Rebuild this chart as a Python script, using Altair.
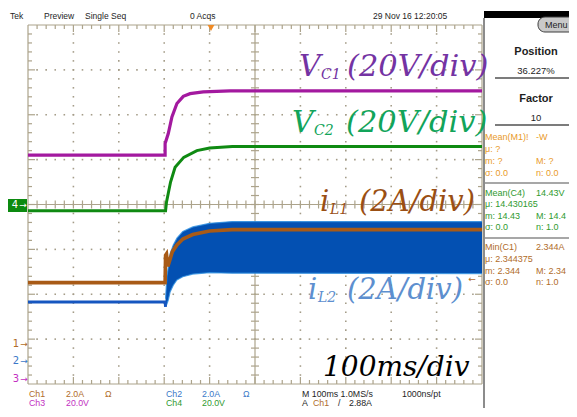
import altair as alt
import pandas as pd

# ---------------- trace data read from the scope screen ----------------
# time in ms (100 ms/div, 10 div wide); values in screen divisions above the bottom graticule (8 div high)
vc1_t = [0, 302, 302, 309, 317, 328, 342, 357, 386, 445, 600, 1000]
vc1_v = [5.10, 5.10, 5.36, 5.58, 5.95, 6.25, 6.41, 6.47, 6.51, 6.53, 6.53, 6.53]

vc2_t = [0, 303, 305, 309, 314, 324, 343, 372, 400, 450, 1000]
vc2_v = [3.86, 3.86, 4.05, 4.25, 4.50, 4.83, 5.05, 5.20, 5.26, 5.29, 5.29]

il1_t = [0, 302, 303, 305, 308, 312, 318, 328, 341, 363, 400, 450, 1000]
il1_v = [2.26, 2.26, 2.87, 2.90, 2.62, 2.75, 2.95, 3.10, 3.23, 3.33, 3.41, 3.44, 3.44]

il2_t = [0, 302, 303]
il2_v = [1.83, 1.83, 1.72]
il2_band_t = [303, 306, 309, 313, 320, 328, 341, 363, 400, 450, 1000]
il2_band_hi = [1.90, 2.40, 2.60, 2.90, 3.10, 3.25, 3.40, 3.50, 3.58, 3.62, 3.62]
il2_band_lo = [1.72, 1.78, 1.87, 2.05, 2.20, 2.32, 2.39, 2.45, 2.48, 2.47, 2.46]

# ---------------- layout helpers (page pixels -> scope grid units) ----------------
X0, Y0, PW, PH = 28.0, 25.0, 454.0, 359.0


def sx(px):
    return (px - X0) / PW * 1000.0


def sy(py):
    return (Y0 + PH - py) / PH * 8.0


xs = alt.Scale(domain=[0, 1000], nice=False, zero=False)
ys = alt.Scale(domain=[0, 8], nice=False, zero=False)
GRID = "#aca38b"
DOT = "#a49c88"


def X(f="x"):
    return alt.X(f"{f}:Q", scale=xs, axis=None)


def Y(f="y"):
    return alt.Y(f"{f}:Q", scale=ys, axis=None)


# ---------------- graticule ----------------
mx = 1000.0 / PW  # ms per px
my = 8.0 / PH     # div per px
rules = []
rules += [dict(x=0, x2=1000, y=0, y2=0), dict(x=0, x2=1000, y=8, y2=8),
          dict(x=0, x2=0, y=0, y2=8), dict(x=1000, x2=1000, y=0, y2=8)]
rules += [dict(x=500, x2=500, y=0, y2=8), dict(x=0, x2=1000, y=4, y2=4)]
for k in range(1, 50):
    xv = 20 * k
    L = 7 if k % 5 == 0 else 4
    rules.append(dict(x=xv, x2=xv, y=8, y2=8 - L * my))
    rules.append(dict(x=xv, x2=xv, y=0, y2=L * my))
    rules.append(dict(x=xv, x2=xv, y=4 - 4 * my, y2=4 + 4 * my))
for j in range(1, 40):
    yv = 0.2 * j
    L = 7 if j % 5 == 0 else 4
    rules.append(dict(x=0, x2=L * mx, y=yv, y2=yv))
    rules.append(dict(x=1000, x2=1000 - L * mx, y=yv, y2=yv))
    rules.append(dict(x=500 - 4 * mx, x2=500 + 4 * mx, y=yv, y2=yv))
grid_df = pd.DataFrame(rules)

dots = []
for xi in range(1, 10):
    if xi == 5:
        continue
    for j in range(1, 40):
        dots.append(dict(x=100 * xi, y=0.2 * j))
for yi in range(1, 8):
    if yi == 4:
        continue
    for k in range(1, 50):
        dots.append(dict(x=20 * k, y=yi))
dots_df = pd.DataFrame(dots)

grid = alt.Chart(grid_df).mark_rule(color=GRID, strokeWidth=1.2).encode(
    x=X("x"), x2="x2:Q", y=Y("y"), y2="y2:Q")
dotlayer = alt.Chart(dots_df).mark_square(size=2.5, color=DOT, opacity=1).encode(x=X("x"), y=Y("y"))


# ---------------- traces ----------------
def line_df(t, v):
    return pd.DataFrame({"x": t, "y": v, "i": list(range(len(t)))})


def trace(t, v, color, w=3.0):
    return alt.Chart(line_df(t, v)).mark_line(color=color, strokeWidth=w).encode(
        x=X("x"), y=Y("y"), order="i:Q")


band_df = pd.DataFrame({"x": il2_band_t, "lo": il2_band_lo, "hi": il2_band_hi})
band = alt.Chart(band_df).mark_area(color="#0350b2", opacity=1).encode(
    x=X("x"), y=Y("lo"), y2="hi:Q")
band_hi = alt.Chart(band_df).mark_line(color="#2d8fe0", strokeWidth=1.2, opacity=0.8).encode(
    x=X("x"), y=Y("hi"))
band_lo = alt.Chart(band_df).mark_line(color="#2d8fe0", strokeWidth=1.2, opacity=0.8).encode(
    x=X("x"), y=Y("lo"))

t_vc1 = trace(vc1_t, vc1_v, "#a3199f", 3.2)
t_vc2 = trace(vc2_t, vc2_v, "#0f8a12", 3.0)
t_il2 = trace(il2_t, il2_v, "#1656c0", 3.0)
t_il1 = trace(il1_t, il1_v, "#a85a16", 3.6)


# ---------------- screen chrome ----------------
def rect_layer(items, **kw):
    df = pd.DataFrame([dict(x=sx(a), x2=sx(b), y=sy(c), y2=sy(d)) for a, b, c, d in items])
    return alt.Chart(df).mark_rect(**kw).encode(x=X("x"), x2="x2:Q", y=Y("y"), y2="y2:Q")


def rule_layer(items, **kw):
    df = pd.DataFrame([dict(x=sx(a), x2=sx(b), y=sy(c), y2=sy(d)) for a, b, c, d in items])
    return alt.Chart(df).mark_rule(**kw).encode(x=X("x"), x2="x2:Q", y=Y("y"), y2="y2:Q")


def text_layer(items, font="Liberation Sans", style="normal", weight="normal",
               baseline="middle", align="left"):
    df = pd.DataFrame([dict(x=sx(a), y=sy(b), text=t, color=c, size=s) for t, a, b, c, s in items])
    return alt.Chart(df).mark_text(font=font, fontStyle=style, fontWeight=weight,
                                   baseline=baseline, align=align).encode(
        x=X("x"), y=Y("y"), text="text:N",
        color=alt.Color("color:N", scale=None), size=alt.Size("size:Q", scale=None))


black_bar = rect_layer([(484, 575, 11, 18)], color="#000000")
menu_btn = rect_layer([(538, 585, 17, 32)], color="#c9c9c9", stroke="#3c3c3c",
                      strokeWidth=1, cornerRadius=7)
ch4_box = rect_layer([(8, 27, 199, 212)], color="#0c8a10")
panel_line = rule_layer([(484, 484, 18, 420)], color="#8c8c8c", strokeWidth=2)
sep_dark = rule_layer([(495, 580, 78, 78), (495, 580, 125, 125)], color="#505050", strokeWidth=1.3)
sep_gray = rule_layer([(485, 580, 183, 183), (485, 580, 238, 238)], color="#8a8a8a", strokeWidth=1.3)

trig = alt.Chart(pd.DataFrame({"x": [sx(211)], "y": [sy(28)]})).mark_point(
    shape="triangle-down", filled=True, size=45, color="#f08a24", opacity=1).encode(x=X("x"), y=Y("y"))

K = "#1e1e1e"
ORG = "#e99a2a"
GRN = "#2f9a2f"
BRN = "#b06c2a"
BLU = "#3a78c8"
MAG = "#c22fc2"
RC = 536   # right column of the measurement panel
F1, F2 = 394, 403  # footer rows

ui_items = [
    ("Tek", 10, 16, K, 8.5), ("Preview", 44, 16, K, 8.5), ("Single Seq", 85, 16, K, 8.5),
    ("0 Acqs", 190, 16, K, 8.5), ("29 Nov 16 12:20:05", 373, 16, K, 8.5),
    ("Menu", 545, 25, K, 9),
    ("Mean(M1)!", 485, 137, ORG, 9), ("-W", RC, 137, ORG, 9), ("μ: ?", 485, 149, ORG, 9),
    ("m: ?", 485, 161, ORG, 9), ("M: ?", RC, 161, ORG, 9),
    ("σ: 0.0", 485, 173, ORG, 9), ("n: 0.0", RC, 173, ORG, 9),
    ("Mean(C4)", 485, 193, GRN, 9), ("14.43V", RC, 193, GRN, 9), ("μ: 14.430165", 485, 204, GRN, 9),
    ("m: 14.43", 485, 216, GRN, 9), ("M: 14.4", RC, 216, GRN, 9),
    ("σ: 0.0", 485, 227, GRN, 9), ("n: 1.0", RC, 227, GRN, 9),
    ("Min(C1)", 485, 247, BRN, 9), ("2.344A", RC, 247, BRN, 9), ("μ: 2.344375", 485, 259, BRN, 9),
    ("m: 2.344", 485, 271, BRN, 9), ("M: 2.34", RC, 271, BRN, 9),
    ("σ: 0.0", 485, 282, BRN, 9), ("n: 1.0", RC, 282, BRN, 9),
    ("Ch1", 29, F1, BRN, 8.8), ("2.0A", 66, F1, BRN, 8.8), ("Ω", 105, F1, BRN, 8.8),
    ("Ch2", 166, F1, BLU, 8.8), ("2.0A", 202, F1, BLU, 8.8), ("Ω", 243, F1, BLU, 8.8),
    ("M 100ms 1.0MS/s", 302, F1, K, 8.8), ("1000ns/pt", 402, F1, K, 8.8),
    ("Ch3", 29, F2, MAG, 8.8), ("20.0V", 66, F2, MAG, 8.8),
    ("Ch4", 166, F2, GRN, 8.8), ("20.0V", 202, F2, GRN, 8.8),
    ("A", 302, F2, K, 8.8), ("Ch1", 313, F2, BRN, 8.8), ("/", 338, F2, K, 8.8), ("2.88A", 349, F2, K, 8.8),
]
ui_text = text_layer(ui_items)

panel_center = text_layer([("36.227%", 536, 71, K, 9.5), ("10", 536, 118, K, 9.5)], align="center")
panel_bold = text_layer([("Position", 536, 52, K, 11), ("Factor", 536, 99, K, 11)],
                        weight="bold", align="center")

markers = text_layer([
    ("4", 15, 205, "#ffffff", 10), ("→", 23, 205, "#ffffff", 9),
    ("1", 16, 344, BRN, 10), ("→", 24, 344, BRN, 9),
    ("2", 16, 361, BLU, 10), ("→", 24, 361, BLU, 9),
    ("3", 16, 379, MAG, 10), ("→", 24, 379, MAG, 9),
    ("←", 472, 279, BRN, 9),
], font="DejaVu Sans", align="center")

# ---------------- big italic annotations ----------------
P_VC1 = "#7433a3"
P_VC2 = "#12a45a"
P_IL1 = "#9a4f14"
P_IL2 = "#5d8fcf"
labels_big = text_layer([
    ("V", 299, 76, P_VC1, 30), ("(20V/div)", 347, 76, P_VC1, 30.5),
    ("V", 292, 132, P_VC2, 30), ("(20V/div)", 346, 132, P_VC2, 30.5),
    ("i", 320, 211, P_IL1, 29), ("(2A/div)", 359, 211, P_IL1, 29),
    ("i", 308, 299, P_IL2, 29), ("(2A/div)", 347, 299, P_IL2, 29),
    ("100ms/div", 323, 376, "#000000", 28),
], font="DejaVu Serif", style="italic", baseline="alphabetic")
labels_sub = text_layer([
    ("C1", 321, 79, P_VC1, 14), ("C2", 314, 135, P_VC2, 14),
    ("L1", 330, 214, P_IL1, 14), ("L2", 318, 302, P_IL2, 14),
], font="DejaVu Serif", style="italic", baseline="alphabetic")

chart = alt.layer(
    dotlayer, grid,
    t_vc1, t_vc2, band, band_hi, band_lo, t_il2, t_il1,
    black_bar, menu_btn, panel_line, sep_dark, sep_gray, ch4_box, trig,
    ui_text, panel_center, panel_bold, markers, labels_big, labels_sub,
).properties(
    width=454, height=359,
    padding={"left": 20, "top": 17, "right": 87, "bottom": 24},
    autosize=alt.AutoSizeParams(type="none"),
    background="white",
).configure_view(stroke=None)

chart.save("out.html", embed_options={"renderer": "svg", "actions": False})
